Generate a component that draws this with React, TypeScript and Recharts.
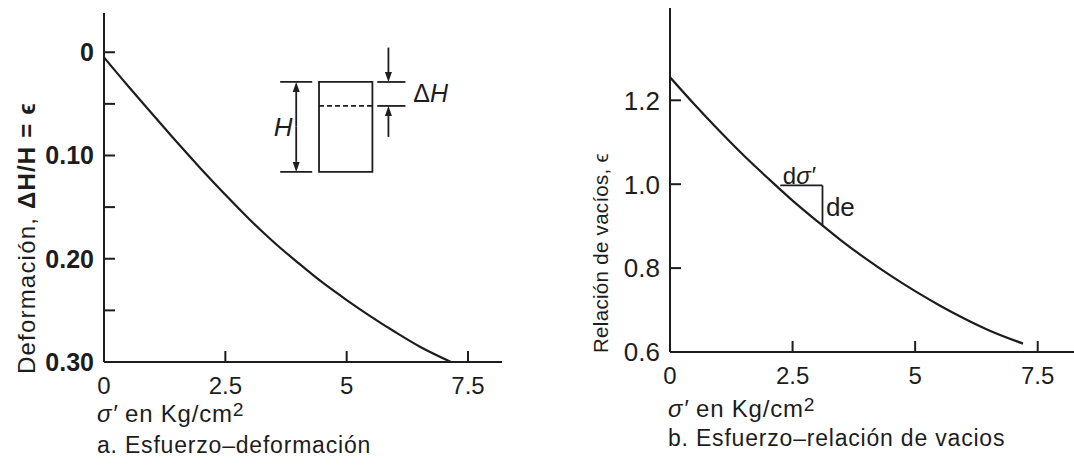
import {
  Line,
  LineChart,
  ReferenceArea,
  ReferenceDot,
  ReferenceLine,
  XAxis,
  YAxis
} from "recharts";

// σ' (kg/cm2) against deformation ε = ΔH/H
const stressA = [0, 0.5, 1, 1.5, 2, 2.5, 3, 3.5, 4, 4.5, 5, 5.5, 6, 6.5, 7.15];
const strain = [0.005, 0.033, 0.06, 0.087, 0.113, 0.138, 0.162, 0.184, 0.204, 0.223, 0.24, 0.256, 0.271, 0.285, 0.3];

// σ' (kg/cm2) against void ratio e
const stressB = [0, 0.5, 1, 1.5, 2, 2.5, 3, 3.5, 4, 4.5, 5, 5.5, 6, 6.5, 7.2];
const voidRatio = [1.255, 1.19, 1.128, 1.069, 1.014, 0.961, 0.912, 0.865, 0.822, 0.782, 0.745, 0.711, 0.68, 0.652, 0.62];

const stressTicks = [0, 2.5, 5, 7.5];
const stressLabels = ["0", "2.5", "5", "7.5"];
const strainTicks = [0, 0.05, 0.1, 0.15, 0.2, 0.25, 0.3];
const strainLabels = ["0", "", "0.10", "", "0.20", "", "0.30"];
const voidTicks = [0.6, 0.8, 1.0, 1.2];
const voidLabels = ["0.6", "0.8", "1.0", "1.2"];

const strainData = stressA.map((s, i) => ({ s, eps: strain[i] }));
const voidData = stressB.map((s, i) => ({ s, e: voidRatio[i] }));

const INK = "#1d1d1d";
const FONT = '"Liberation Sans Narrow", "Liberation Sans", Arial, sans-serif';
const FONT_W = '"Liberation Sans", Arial, sans-serif';

// ticks point into the plot; labels sit outside
const xTick = (fontSize: number) => (props: any) => {
  const { x, y, payload } = props;
  const i = stressTicks.indexOf(payload.value);
  return (
    <g>
      {payload.value !== 0 && (
        <line x1={x} x2={x} y1={y} y2={y - 11} stroke={INK} strokeWidth={2} />
      )}
      <text x={x} y={y + 32} textAnchor="middle" fontSize={fontSize} fill={INK} fontFamily={FONT}>
        {stressLabels[i]}
      </text>
    </g>
  );
};

const yTick = (values: number[], labels: string[], fontSize: number, weight: string) => (props: any) => {
  const { x, y, payload } = props;
  const i = values.findIndex((v) => Math.abs(v - payload.value) < 1e-9);
  return (
    <g>
      <line x1={x} x2={x + 11} y1={y} y2={y} stroke={INK} strokeWidth={2} />
      {labels[i] && (
        <text x={x - 10} y={y} dy="0.36em" textAnchor="end" fontSize={fontSize} fontWeight={weight} fill={INK} fontFamily={FONT}>
          {labels[i]}
        </text>
      )}
    </g>
  );
};

const Arrow = (props: any) => {
  const { x1, y1, x2, y2 } = props;
  const dir = Math.sign(y2 - y1) || 1;
  const len = 10;
  const half = 3.5;
  return (
    <g>
      <line x1={x1} y1={y1} x2={x2} y2={y2 - dir * len} stroke={INK} strokeWidth={1.8} />
      <polygon points={`${x2},${y2} ${x2 - half},${y2 - dir * len} ${x2 + half},${y2 - dir * len}`} fill={INK} />
    </g>
  );
};

const note = (text: React.ReactNode, fontSize: number, anchor = "start") => (p: any) => (
  <text x={p.cx} y={p.cy} dy="0.35em" textAnchor={anchor} fontSize={fontSize} fill={INK} fontFamily={FONT_W}>
    {text}
  </text>
);

const thin = { stroke: INK, strokeWidth: 1.8 };

function StrainChart() {
  return (
    <LineChart width={540} height={468} data={strainData} margin={{ top: 13, right: 38, bottom: 76, left: 44 }}>
      <XAxis
        dataKey="s"
        type="number"
        domain={[0, 8.2]}
        ticks={stressTicks}
        interval={0}
        tickSize={0}
        tickMargin={0}
        tick={xTick(24)}
        axisLine={{ stroke: INK, strokeWidth: 2 }}
        allowDataOverflow
      />
      <YAxis
        type="number"
        domain={[-0.038, 0.3]}
        reversed
        ticks={strainTicks}
        interval={0}
        width={60}
        tickSize={0}
        tickMargin={0}
        tick={yTick(strainTicks, strainLabels, 25, "bold")}
        axisLine={{ stroke: INK, strokeWidth: 2 }}
        allowDataOverflow
      />
      <Line dataKey="eps" type="monotone" stroke={INK} strokeWidth={2.2} dot={false} isAnimationActive={false} />

      {/* specimen sketch */}
      <ReferenceArea x1={4.43} x2={5.53} y1={0.0288} y2={0.1159} fill="none" stroke={INK} strokeWidth={1.8} />
      <ReferenceLine segment={[{ x: 4.43, y: 0.052 }, { x: 5.53, y: 0.052 }]} {...thin} strokeDasharray="5 3" />
      <ReferenceLine segment={[{ x: 3.63, y: 0.0288 }, { x: 4.29, y: 0.0288 }]} {...thin} />
      <ReferenceLine segment={[{ x: 3.63, y: 0.1159 }, { x: 4.29, y: 0.1159 }]} {...thin} />
      <ReferenceLine segment={[{ x: 3.96, y: 0.072 }, { x: 3.96, y: 0.0288 }]} shape={Arrow} />
      <ReferenceLine segment={[{ x: 3.96, y: 0.072 }, { x: 3.96, y: 0.1159 }]} shape={Arrow} />
      <ReferenceLine segment={[{ x: 5.63, y: 0.0288 }, { x: 6.21, y: 0.0288 }]} {...thin} />
      <ReferenceLine segment={[{ x: 5.63, y: 0.052 }, { x: 6.21, y: 0.052 }]} {...thin} />
      <ReferenceLine segment={[{ x: 5.86, y: -0.0045 }, { x: 5.86, y: 0.0288 }]} shape={Arrow} />
      <ReferenceLine segment={[{ x: 5.86, y: 0.082 }, { x: 5.86, y: 0.052 }]} shape={Arrow} />
      <ReferenceDot x={3.69} y={0.0723} r={1} shape={note(<tspan fontStyle="italic">H</tspan>, 26, "middle")} />
      <ReferenceDot
        x={6.37}
        y={0.0394}
        r={1}
        shape={note(<>Δ<tspan fontStyle="italic">H</tspan></>, 25)}
      />
    </LineChart>
  );
}

function VoidChart() {
  return (
    <LineChart width={534} height={468} data={voidData} margin={{ top: 8, right: 0, bottom: 86, left: 70 }}>
      <XAxis
        dataKey="s"
        type="number"
        domain={[0, 8.24]}
        ticks={stressTicks}
        interval={0}
        tickSize={0}
        tickMargin={0}
        tick={xTick(24)}
        axisLine={{ stroke: INK, strokeWidth: 2 }}
        allowDataOverflow
      />
      <YAxis
        type="number"
        domain={[0.6, 1.42]}
        ticks={voidTicks}
        interval={0}
        width={60}
        tickSize={0}
        tickMargin={0}
        tick={yTick(voidTicks, voidLabels, 26, "normal")}
        axisLine={{ stroke: INK, strokeWidth: 2 }}
        allowDataOverflow
      />
      <Line dataKey="e" type="monotone" stroke={INK} strokeWidth={2.2} dot={false} isAnimationActive={false} />

      {/* slope triangle */}
      <ReferenceLine segment={[{ x: 2.25, y: 0.997 }, { x: 3.11, y: 0.997 }]} {...thin} />
      <ReferenceLine segment={[{ x: 3.11, y: 0.997 }, { x: 3.11, y: 0.9 }]} {...thin} />
      <ReferenceDot
        x={2.3}
        y={1.021}
        r={1}
        shape={note(<>d<tspan fontStyle="italic">σ′</tspan></>, 24)}
      />
      <ReferenceDot x={3.18} y={0.946} r={1} shape={note("de", 26)} />
    </LineChart>
  );
}

const caption = (left: number, top: number, size: number, spacing = 0): React.CSSProperties => ({
  position: "absolute",
  left,
  top,
  fontSize: size,
  lineHeight: 1,
  letterSpacing: spacing,
  whiteSpace: "nowrap",
  fontFamily: FONT_W,
  color: INK
});

const sup = { fontSize: "0.8em", position: "relative" as const, top: "-0.3em" };

export default function App() {
  return (
    <div style={{ position: "absolute", left: 0, top: 0, width: 1074, height: 468, background: "#fff", overflow: "hidden" }}>
      <div style={{ position: "absolute", left: 0, top: 0 }}>
        <StrainChart />
      </div>
      <div style={{ position: "absolute", left: 540, top: 0 }}>
        <VoidChart />
      </div>

      <div
        style={{
          ...caption(27, 238, 24, 1.2),
          transform: "translate(-50%, -50%) rotate(-90deg)"
        }}
      >
        Deformación, <b>ΔH/H = ϵ</b>
      </div>
      <div
        style={{
          ...caption(601, 253, 20.5, 0.3),
          transform: "translate(-50%, -50%) rotate(-90deg)"
        }}
      >
        Relación de vacíos, ϵ
      </div>

      <div style={caption(97, 402, 24, 0.8)}>
        <i>σ′</i> en Kg/cm<span style={sup}>2</span>
      </div>
      <div style={caption(97, 434, 23, 0.8)}>a. Esfuerzo–deformación</div>
      <div style={caption(668, 397, 24, 0.8)}>
        <i>σ′</i> en Kg/cm<span style={sup}>2</span>
      </div>
      <div style={caption(668, 427, 23, 0.8)}>b. Esfuerzo–relación de vacios</div>
    </div>
  );
}
